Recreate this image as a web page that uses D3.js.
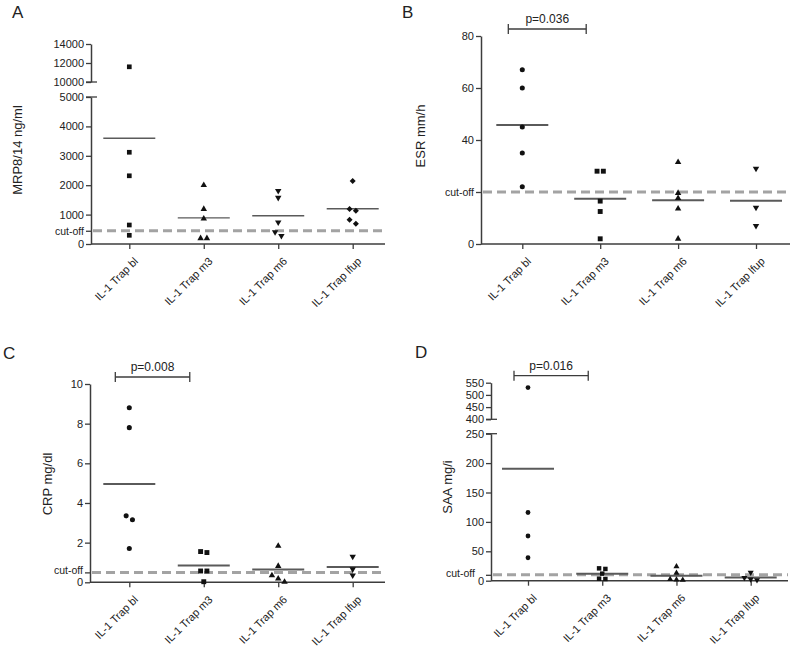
<!DOCTYPE html>
<html><head><meta charset="utf-8">
<script src="https://cdn.jsdelivr.net/npm/d3@7/dist/d3.min.js"></script>
<style>
body{margin:0;background:#fff;}
svg{display:block;font-family:"Liberation Sans",Arial,Helvetica,sans-serif;}
</style></head>
<body><svg id="c" width="800" height="649"></svg>
<script>
// ---------- data ----------
const categories = ["IL-1 Trap bl", "IL-1 Trap m3", "IL-1 Trap m6", "IL-1 Trap lfup"];

const mrpValues = [[11600, 3120, 2320, 646, 296], [2000, 1190, 860, 194, 194], [1810, 1575, 738, 408, 280], [2143, 1190, 1133, 827, 690]];
const mrpCutoff = 450;
const mrpLowerTicks = [0, 1000, 2000, 3000, 4000, 5000];
const mrpUpperTicks = [10000, 12000, 14000];

const esrValues = [[67, 60, 45, 35, 22], [28, 28, 16.5, 12.5, 2], [31.5, 19.6, 17.6, 13.6, 2], [29, 14, 7]];
const esrCutoff = 20;
const esrTicks = [0, 40, 60, 80];

const crpValues = [[8.8, 7.8, 3.35, 3.15, 1.7], [1.5, 1.55, 0.57, 0.57, 0.03], [1.83, 0.82, 0.35, 0.18, 0.02], [1.3, 0.66, 0.35]];
const crpCutoff = 0.5;
const crpTicks = [0, 2, 4, 6, 8, 10];

const saaValues = [[530, 116, 76, 39], [21, 20, 12, 3.4, 2.9], [24, 13, 2.5, 1.5, 1], [14, 5, 2.5, 1]];
const saaCutoff = 10;
const saaLowerTicks = [0, 50, 100, 150, 200, 250];
const saaUpperTicks = [400, 450, 500, 550];

const pLabels = ["p=0.036", "p=0.008", "p=0.016"];

// ---------- drawing ----------
const svg = d3.select("#c");
const AX = "#3c3c3c";

function drawPanel(cfg) {
  const g = svg.append("g");
  const x = d3.scalePoint().domain(categories).range(cfg.xRange);
  const segs = cfg.segments.map(s => ({ ...s, scale: d3.scaleLinear().domain(s.domain).range(s.range) }));
  const y = v => {
    for (let i = 0; i < segs.length; i++) {
      if (i === segs.length - 1 || v <= segs[i].domain[1] + (segs[i + 1].domain[0] - segs[i].domain[1]) / 2) return segs[i].scale(v);
    }
  };
  const baseY = segs[0].range[0];

  // y axes per segment
  segs.forEach((s, i) => {
    const tv = s.ticks.slice();
    if (i === 0) tv.push(cfg.cutoff);
    const ax = d3.axisLeft(s.scale).tickValues(tv).tickSize(5).tickSizeOuter(0).tickPadding(2)
      .tickFormat(d => d === cfg.cutoff && i === 0 ? "cut-off" : d);
    const ag = g.append("g").attr("transform", `translate(${cfg.axisX},0)`).call(ax);
    ag.select(".domain").attr("stroke", AX).attr("stroke-width", 1.5);
    ag.selectAll(".tick line").attr("stroke", AX).attr("stroke-width", 1.3);
    ag.selectAll(".tick text").attr("fill", "#222").style("font-size", "11px");
    if (i === 0) {
      ag.selectAll(".tick text").filter(d => d === cfg.cutoff)
        .attr("dx", cfg.cutShift[0]).attr("dy", cfg.cutShift[1]).style("font-size", "10.5px");
    }
    // break marks
    if (segs.length > 1) {
      const endV = i === 0 ? s.domain[1] : s.domain[0];
      g.append("line").attr("x1", cfg.axisX - 5).attr("x2", cfg.axisX + 6)
        .attr("y1", s.scale(endV)).attr("y2", s.scale(endV)).attr("stroke", AX).attr("stroke-width", 1.3);
    }
  });

  // x axis
  const xa = d3.axisBottom(x).tickSize(5).tickSizeOuter(0).tickPadding(4);
  const xg = g.append("g").attr("transform", `translate(0,${baseY})`).call(xa);
  xg.select(".domain").remove();
  xg.selectAll(".tick line").attr("stroke", AX).attr("stroke-width", 1.3);
  xg.selectAll(".tick text").style("font-size", "11px").attr("fill", "#222")
    .attr("text-anchor", "end").attr("dy", null).attr("y", 0)
    .attr("transform", "translate(9,18) rotate(-45)");
  g.append("line").attr("x1", cfg.axisX).attr("x2", cfg.xEnd).attr("y1", baseY).attr("y2", baseY)
    .attr("stroke", AX).attr("stroke-width", 1.5);

  // cutoff dashed line
  g.append("line").attr("x1", cfg.axisX + 2).attr("x2", cfg.xEnd).attr("y1", y(cfg.cutoff)).attr("y2", y(cfg.cutoff))
    .attr("stroke", "#a3a3a3").attr("stroke-width", 3).attr("stroke-dasharray", "9,5");

  // means
  cfg.values.forEach((vals, ci) => {
    const m = d3.mean(vals);
    g.append("line").attr("x1", x(categories[ci]) - 26).attr("x2", x(categories[ci]) + 26)
      .attr("y1", y(m)).attr("y2", y(m)).attr("stroke", "#5a5a5a").attr("stroke-width", cfg.meanWidth);
  });

  // points with simple spreading of overlapping points
  cfg.values.forEach((vals, ci) => {
    const sorted = vals.slice().sort((a, b) => b - a);
    const clusters = [];
    sorted.forEach(v => {
      const py = y(v);
      const last = clusters[clusters.length - 1];
      if (last && Math.abs(last[last.length - 1].py - py) < 4.5) last.push({ v, py });
      else clusters.push([{ v, py }]);
    });
    const sym = d3.symbol().type(cfg.symbols[ci]).size(cfg.symSizes[ci]);
    clusters.forEach(cl => {
      cl.forEach((p, k) => {
        const dx = (k - (cl.length - 1) / 2) * 6.3;
        const rot = cfg.flip[ci] ? " rotate(180)" : (cfg.diamond && cfg.diamond[ci] ? " rotate(45)" : "");
        g.append("path").attr("d", sym())
          .attr("transform", `translate(${x(categories[ci]) + dx},${p.py})${rot}`)
          .attr("fill", "#111");
      });
    });
  });

  // y label
  g.append("text").attr("transform", `translate(${cfg.labelX},${cfg.labelY}) rotate(-90)`)
    .attr("text-anchor", "middle").style("font-size", "13px").attr("fill", "#222").text(cfg.yLabel);

  // panel letter
  g.append("text").attr("x", cfg.letterPos[0]).attr("y", cfg.letterPos[1])
    .style("font-size", "17px").attr("fill", "#222").text(cfg.letter);

  // p-value bracket
  if (cfg.pLabel) {
    const topY = segs[segs.length - 1].range[1] - 7;
    const x1 = x(categories[0]) - 14, x2 = x(categories[1]) - 14;
    g.append("line").attr("x1", x1).attr("x2", x2).attr("y1", topY).attr("y2", topY).attr("stroke", AX).attr("stroke-width", 1.3);
    [x1, x2].forEach(xx => g.append("line").attr("x1", xx).attr("x2", xx).attr("y1", topY - 5).attr("y2", topY + 5).attr("stroke", AX).attr("stroke-width", 1.3));
    g.append("text").attr("x", (x1 + x2) / 2).attr("y", topY - 6).attr("text-anchor", "middle")
      .style("font-size", "12px").attr("fill", "#222").text(cfg.pLabel);
  }
}

const symA = [d3.symbolSquare, d3.symbolTriangle, d3.symbolTriangle, d3.symbolSquare];
const symO = [d3.symbolCircle, d3.symbolSquare, d3.symbolTriangle, d3.symbolTriangle];

drawPanel({
  letter: "A", letterPos: [12, 18], yLabel: "MRP8/14 ng/ml", labelX: 22, labelY: 150,
  axisX: 91, xEnd: 385, xRange: [129.3, 352.7],
  segments: [{ domain: [0, 5000], range: [244, 97], ticks: mrpLowerTicks }, { domain: [10000, 14000], range: [82, 44], ticks: mrpUpperTicks }],
  cutoff: mrpCutoff, cutShift: [0, "0.32em"], values: mrpValues, symbols: symA, symSizes: [22, 18, 18, 18], flip: [false, false, true, false], diamond: [false, false, false, true],
  meanWidth: 1.4
});
drawPanel({
  letter: "B", letterPos: [402, 18], yLabel: "ESR mm/h", labelX: 425, labelY: 136,
  axisX: 481, xEnd: 790, xRange: [522.3, 756],
  segments: [{ domain: [0, 80], range: [244, 36], ticks: esrTicks }],
  cutoff: esrCutoff, cutShift: [0, "0.32em"], values: esrValues, symbols: symO, symSizes: [20, 24, 18, 18], flip: [false, false, false, true],
  meanWidth: 2, pLabel: pLabels[0]
});
drawPanel({
  letter: "C", letterPos: [3, 359], yLabel: "CRP mg/dl", labelX: 52, labelY: 484,
  axisX: 90, xEnd: 385, xRange: [129.3, 352.7],
  segments: [{ domain: [0, 10], range: [582.3, 384], ticks: crpTicks }],
  cutoff: crpCutoff, cutShift: [0, "0.1em"], values: crpValues, symbols: symO, symSizes: [20, 24, 18, 18], flip: [false, false, false, true],
  meanWidth: 2, pLabel: pLabels[1]
});
drawPanel({
  letter: "D", letterPos: [415, 358], yLabel: "SAA mg/i", labelX: 452, labelY: 487,
  axisX: 491, xEnd: 788, xRange: [528, 750.7],
  segments: [{ domain: [0, 250], range: [580.7, 433.7], ticks: saaLowerTicks }, { domain: [400, 550], range: [419.3, 382.7], ticks: saaUpperTicks }],
  cutoff: saaCutoff, cutShift: [-9, "0.2em"], values: saaValues, symbols: symO, symSizes: [18, 20, 16, 16], flip: [false, false, false, true],
  meanWidth: 2, pLabel: pLabels[2]
});
</script>
</body></html>
